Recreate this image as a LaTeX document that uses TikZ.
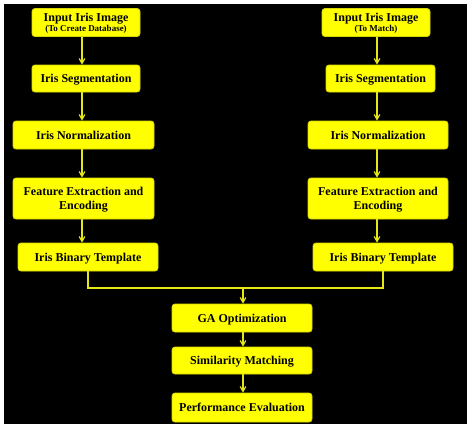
\documentclass[tikz,border=0pt]{standalone}
\usepackage{fontspec}
\setmainfont{Liberation Serif}
\usepackage{xcolor}
\usetikzlibrary{arrows}
\definecolor{boxyellow}{RGB}{255,255,0}
\definecolor{lineyellow}{RGB}{230,230,20}
\definecolor{edgeyellow}{RGB}{215,215,0}

\tikzset{
	stage/.style={draw=edgeyellow,fill=boxyellow,rounded corners=3pt,line width=0.8pt,
		align=center,inner sep=1pt,text depth=0pt,font=\bfseries\fontsize{12}{14.5}\selectfont},
	sub/.style={font=\bfseries\fontsize{9}{10}\selectfont}
}

\begin{document}
\begin{tikzpicture}[x=1pt,y=-1pt]
	\fill[white] (0,0) rectangle (470,426);
	\fill[black] (4,4) rectangle (467,424);
	\useasboundingbox (0,0) rectangle (470,426);
	%
	\node[stage,minimum width=108,minimum height=28] (inL) at (86,22.5) {Input Iris Image\\[-4.5pt]{\fontsize{9}{10}\selectfont(To Create Database)}};
	\node[stage,minimum width=108,minimum height=27] (segL) at (86,78.5) {Iris Segmentation};
	\node[stage,minimum width=141,minimum height=28] (normL) at (83.5,135) {Iris Normalization};
	\node[stage,minimum width=141,minimum height=41] (featL) at (83.5,198.5) {Feature Extraction and\\Encoding};
	\node[stage,minimum width=140,minimum height=28] (binL) at (88,257) {Iris Binary Template};
	%
	\node[stage,minimum width=108,minimum height=28] (inR) at (376,22.5) {Input Iris Image\\[-4.5pt]{\fontsize{9}{10}\selectfont(To Match)}};
	\node[stage,minimum width=109,minimum height=27] (segR) at (380.5,78.5) {Iris Segmentation};
	\node[stage,minimum width=140,minimum height=28] (normR) at (378,135) {Iris Normalization};
	\node[stage,minimum width=140,minimum height=41] (featR) at (378,198.5) {Feature Extraction and\\Encoding};
	\node[stage,minimum width=140,minimum height=28] (binR) at (383,257) {Iris Binary Template};
	%
	\node[stage,minimum width=140,minimum height=28] (ga) at (242,318) {GA Optimization};
	\node[stage,minimum width=140,minimum height=27] (sim) at (242,360.5) {Similarity Matching};
	\node[stage,minimum width=140,minimum height=29] (perf) at (242,407.5) {Performance Evaluation};
	%
	\coordinate (axL) at (82,0);
	\coordinate (axR) at (377,0);
	\coordinate (join) at (243,288);
	%
	\path[->,lineyellow,line width=1.2pt,>=angle 60]
	(inL.south -| axL) edge (segL.north -| axL)
	(segL.south -| axL) edge (normL.north -| axL)
	(normL.south -| axL) edge (featL.north -| axL)
	(featL.south -| axL) edge (binL.north -| axL)
	(inR.south -| axR) edge (segR.north -| axR)
	(segR.south -| axR) edge (normR.north -| axR)
	(normR.south -| axR) edge (featR.north -| axR)
	(featR.south -| axR) edge (binR.north -| axR)
	(join) edge (ga.north -| join)
	(ga.south -| join) edge (sim.north -| join)
	(sim.south -| join) edge (perf.north -| join);
	\draw[lineyellow,line width=1.2pt] (binL.south) |- (join) -| (binR.south);
\end{tikzpicture}
\end{document}
